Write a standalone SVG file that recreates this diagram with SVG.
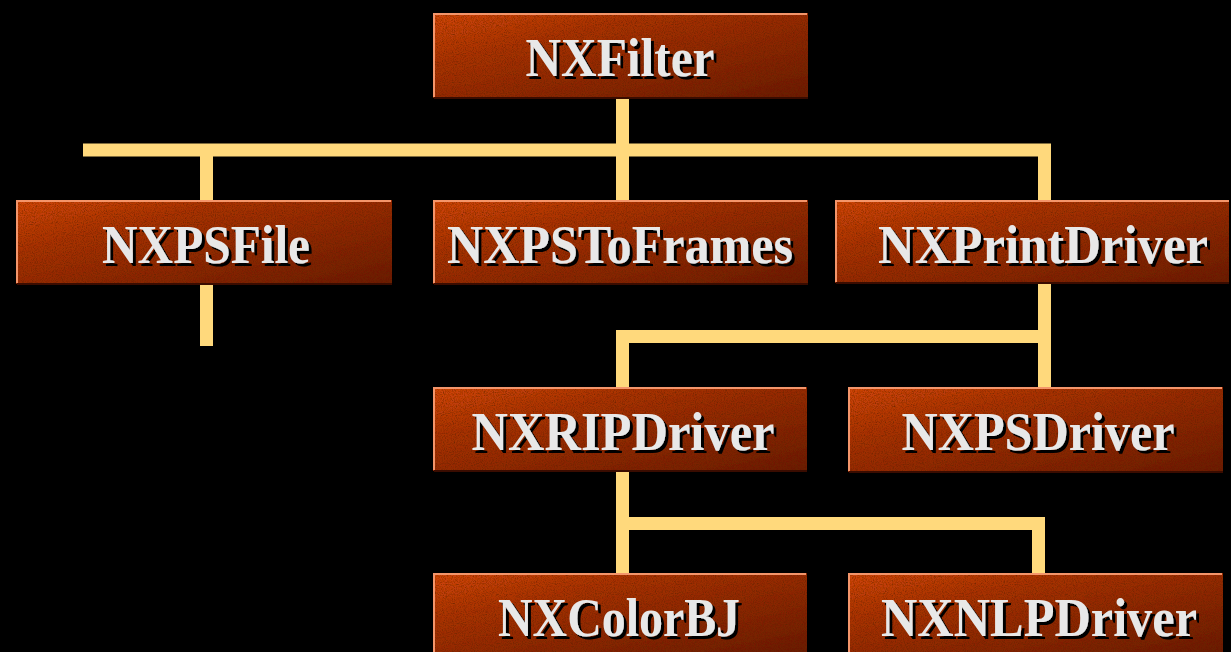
<svg xmlns="http://www.w3.org/2000/svg" width="1231" height="652" viewBox="0 0 1231 652">
<defs>
<linearGradient id="boxg" x1="0" y1="0" x2="1" y2="1">
<stop offset="0" stop-color="#d0460f"/>
<stop offset="0.3" stop-color="#a83200"/>
<stop offset="1" stop-color="#6a1b00"/>
</linearGradient>
<filter id="grain" x="0" y="0" width="1" height="1">
<feTurbulence type="fractalNoise" baseFrequency="0.9" numOctaves="2" seed="4" result="n"/>
<feColorMatrix in="n" type="matrix" values="0 0 0 0 0.12  0 0 0 0 0.02  0 0 0 0 0  1.8 0 0 0 -0.78" result="d"/>
<feComposite in="d" in2="SourceGraphic" operator="in" result="dd"/>
<feMerge><feMergeNode in="SourceGraphic"/><feMergeNode in="dd"/></feMerge>
</filter>
<filter id="shadow" x="0" y="0" width="1.03" height="1.12">
<feOffset in="SourceAlpha" dx="3" dy="3" result="o"/>
<feMerge><feMergeNode in="o"/><feMergeNode in="SourceGraphic"/></feMerge>
</filter>
</defs>
<style>
.box{fill:url(#boxg);filter:url(#grain)}
.hl{fill:none;stroke:#f4956a;stroke-width:2}
.dk{fill:none;stroke:#3a0c00;stroke-width:2}
.lbl{font-family:"Liberation Serif","Times New Roman",serif;font-weight:bold;font-size:55px;fill:#e8e8e8;text-anchor:middle;filter:url(#shadow)}
.con{fill:none;stroke:#ffd97c;stroke-width:13;stroke-linecap:butt;stroke-linejoin:miter}
</style>
<rect width="1231" height="652" fill="#000"/>
<g id="connectors">
<path class="con" d="M622.5 98 V200"/>
<path class="con" d="M83 150 H1044.5 V200"/>
<path class="con" d="M206.5 150 V200"/>
<path class="con" d="M206.5 284 V346"/>
<path class="con" d="M1044.5 283 V387"/>
<path class="con" d="M1044.5 336.5 H622.5 V387"/>
<path class="con" d="M622.5 471 V573"/>
<path class="con" d="M622.5 523.5 H1038.5 V573"/>
</g>
<g id="NXFilter">
<rect class="box" x="433" y="13" width="375" height="85"/>
<path class="hl" d="M434 97 V14 H807"/>
<path class="dk" d="M434 98 H808"/>
<text class="lbl" x="620" y="76" textLength="189" lengthAdjust="spacingAndGlyphs">NXFilter</text>
</g>
<g id="NXPSFile">
<rect class="box" x="16" y="200" width="376" height="84"/>
<path class="hl" d="M17 283 V201 H391"/>
<path class="dk" d="M17 284 H392"/>
<text class="lbl" x="206" y="263" textLength="208" lengthAdjust="spacingAndGlyphs">NXPSFile</text>
</g>
<g id="NXPSToFrames">
<rect class="box" x="433" y="200" width="375" height="84"/>
<path class="hl" d="M434 283 V201 H807"/>
<path class="dk" d="M434 284 H808"/>
<text class="lbl" x="620" y="263" textLength="346" lengthAdjust="spacingAndGlyphs">NXPSToFrames</text>
</g>
<g id="NXPrintDriver">
<rect class="box" x="835" y="200" width="394" height="83"/>
<path class="hl" d="M836 282 V201 H1229"/>
<path class="dk" d="M836 283 H1229"/>
<text class="lbl" x="1043" y="263" textLength="330" lengthAdjust="spacingAndGlyphs">NXPrintDriver</text>
</g>
<g id="NXRIPDriver">
<rect class="box" x="433" y="387" width="374" height="84"/>
<path class="hl" d="M434 470 V388 H806"/>
<path class="dk" d="M434 471 H807"/>
<text class="lbl" x="623" y="450" textLength="303" lengthAdjust="spacingAndGlyphs">NXRIPDriver</text>
</g>
<g id="NXPSDriver">
<rect class="box" x="848" y="387" width="375" height="85"/>
<path class="hl" d="M849 471 V388 H1222"/>
<path class="dk" d="M849 472 H1223"/>
<text class="lbl" x="1038" y="450" textLength="273" lengthAdjust="spacingAndGlyphs">NXPSDriver</text>
</g>
<g id="NXColorBJ">
<rect class="box" x="433" y="573" width="374" height="79"/>
<path class="hl" d="M434 652 V574 H806"/>
<text class="lbl" x="619" y="636" textLength="242" lengthAdjust="spacingAndGlyphs">NXColorBJ</text>
</g>
<g id="NXNLPDriver">
<rect class="box" x="848" y="573" width="375" height="79"/>
<path class="hl" d="M849 652 V574 H1222"/>
<text class="lbl" x="1039" y="636" textLength="316" lengthAdjust="spacingAndGlyphs">NXNLPDriver</text>
</g>
</svg>
